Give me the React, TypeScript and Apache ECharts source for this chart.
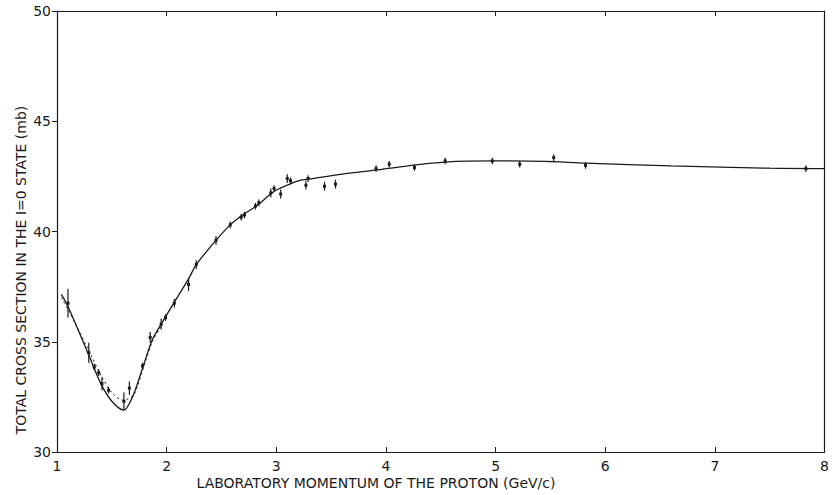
import React, { useEffect, useRef } from "react";
import * as echarts from "echarts";

// Solid fitted curve
const curveX = [1.04, 1.1, 1.2, 1.29, 1.4, 1.5, 1.61, 1.68, 1.72, 1.8, 1.87, 1.95, 2.07, 2.2, 2.27, 2.45, 2.58, 2.68, 2.83, 2.96, 3.03, 3.2, 3.33, 3.6, 3.9, 4.2, 4.54, 5.0, 5.45, 5.82, 6.6, 7.5, 8.0];
const curveY = [37.15, 36.6, 35.45, 34.4, 33.1, 32.3, 31.9, 32.4, 32.9, 34.1, 35.1, 35.8, 36.8, 37.85, 38.5, 39.6, 40.3, 40.7, 41.2, 41.75, 41.95, 42.3, 42.4, 42.6, 42.78, 42.98, 43.15, 43.2, 43.18, 43.1, 42.98, 42.87, 42.85];

// Dotted curve near the dip
const dashX = [1.04, 1.15, 1.3, 1.42, 1.5, 1.6, 1.7, 1.78, 1.87, 1.95];
const dashY = [37.0, 36.0, 34.5, 33.3, 32.7, 32.35, 32.6, 33.7, 35.0, 35.7];

// Measured points with errors
const pointX = [1.1, 1.29, 1.34, 1.38, 1.41, 1.47, 1.61, 1.66, 1.78, 1.85, 1.95, 1.99, 2.07, 2.2, 2.27, 2.45, 2.58, 2.68, 2.71, 2.81, 2.84, 2.95, 2.98, 3.04, 3.1, 3.13, 3.27, 3.29, 3.44, 3.54, 3.91, 4.03, 4.26, 4.54, 4.97, 5.22, 5.53, 5.82, 7.83];
const pointY = [36.75, 34.5, 33.85, 33.6, 33.1, 32.8, 32.3, 32.9, 33.9, 35.2, 35.8, 36.1, 36.75, 37.6, 38.5, 39.6, 40.3, 40.65, 40.75, 41.15, 41.3, 41.75, 41.95, 41.7, 42.4, 42.3, 42.1, 42.4, 42.05, 42.15, 42.85, 43.05, 42.9, 43.2, 43.2, 43.05, 43.35, 43.0, 42.85];
const pointErr = [0.65, 0.45, 0.15, 0.15, 0.3, 0.15, 0.4, 0.3, 0.15, 0.25, 0.25, 0.15, 0.2, 0.3, 0.2, 0.2, 0.15, 0.15, 0.15, 0.15, 0.15, 0.2, 0.15, 0.2, 0.2, 0.15, 0.2, 0.15, 0.2, 0.2, 0.15, 0.15, 0.15, 0.15, 0.15, 0.15, 0.15, 0.15, 0.15];

const xTicks = [1, 2, 3, 4, 5, 6, 7, 8];
const yTicks = [30, 35, 40, 45, 50];

const FONT = "DejaVu Sans";
const INK = "#1a1a1a";

export default function App() {
  const ref = useRef<HTMLDivElement>(null);
  useEffect(() => {
    if (!ref.current) return;
    const chart = echarts.init(ref.current, null, { renderer: "svg" });
    const curve = curveX.map((x, i) => [x, curveY[i]]);
    const dash = dashX.map((x, i) => [x, dashY[i]]);
    const pts = pointX.map((x, i) => [x, pointY[i], pointErr[i]]);
    chart.setOption({
      animation: false,
      backgroundColor: "#ffffff",
      grid: { left: 57, right: 6, top: 11, bottom: 43 },
      xAxis: [
        {
          type: "value",
          min: xTicks[0],
          max: xTicks[xTicks.length - 1],
          interval: 1,
          position: "bottom",
          axisLine: { lineStyle: { color: INK, width: 1.2 } },
          axisTick: { inside: true, length: 5, lineStyle: { color: INK } },
          axisLabel: { color: INK, fontFamily: FONT, fontSize: 14, margin: 7 },
          splitLine: { show: false },
        },
        {
          type: "value",
          min: xTicks[0],
          max: xTicks[xTicks.length - 1],
          interval: 1,
          position: "top",
          axisLine: { show: true, lineStyle: { color: INK, width: 1.2 } },
          axisTick: { inside: true, length: 5, lineStyle: { color: INK } },
          axisLabel: { show: false },
          splitLine: { show: false },
        },
      ],
      yAxis: [
        {
          type: "value",
          min: yTicks[0],
          max: yTicks[yTicks.length - 1],
          interval: 5,
          position: "left",
          axisLine: { show: true, lineStyle: { color: INK, width: 1.2 } },
          axisTick: { show: true, inside: false, length: 5, lineStyle: { color: INK } },
          axisLabel: { color: INK, fontFamily: FONT, fontSize: 14, margin: 6 },
          splitLine: { show: false },
        },
        {
          type: "value",
          min: yTicks[0],
          max: yTicks[yTicks.length - 1],
          interval: 5,
          position: "right",
          axisLine: { show: true, lineStyle: { color: INK, width: 1.2 } },
          axisTick: { show: false },
          axisLabel: { show: false },
          splitLine: { show: false },
        },
      ],
      graphic: [
        {
          type: "text",
          x: 376,
          y: 483,
          style: {
            text: "LABORATORY MOMENTUM OF THE PROTON (GeV/c)",
            fill: INK,
            font: `14px "${FONT}"`,
            align: "center",
            verticalAlign: "middle",
          },
        },
        {
          type: "text",
          x: 21,
          y: 270,
          rotation: Math.PI / 2,
          style: {
            text: "TOTAL CROSS SECTION IN THE I=0 STATE (mb)",
            fill: INK,
            font: `14px "${FONT}"`,
            align: "center",
            verticalAlign: "middle",
          },
        },
      ],
      series: [
        {
          type: "line",
          data: curve,
          smooth: 0.3,
          showSymbol: false,
          lineStyle: { color: INK, width: 1.3 },
          z: 2,
        },
        {
          type: "line",
          data: dash,
          smooth: 0.3,
          showSymbol: false,
          lineStyle: { color: INK, width: 1, type: [2, 3] },
          z: 2,
        },
        {
          type: "custom",
          data: pts,
          z: 3,
          renderItem: (params: any, api: any) => {
            const x = api.value(0);
            const y = api.value(1);
            const e = api.value(2);
            const c = api.coord([x, y]);
            const top = api.coord([x, y + e]);
            const bot = api.coord([x, y - e]);
            return {
              type: "group",
              children: [
                {
                  type: "line",
                  shape: { x1: c[0], y1: top[1], x2: c[0], y2: bot[1] },
                  style: { stroke: INK, lineWidth: 1.2 },
                },
                {
                  type: "rect",
                  shape: { x: c[0] - 1.5, y: c[1] - 1.5, width: 3, height: 3 },
                  style: { fill: INK },
                },
              ],
            };
          },
        },
      ],
    });
    return () => chart.dispose();
  }, []);
  return (
    <div
      ref={ref}
      style={{ position: "fixed", left: 0, top: 0, width: 832, height: 495 }}
    />
  );
}
